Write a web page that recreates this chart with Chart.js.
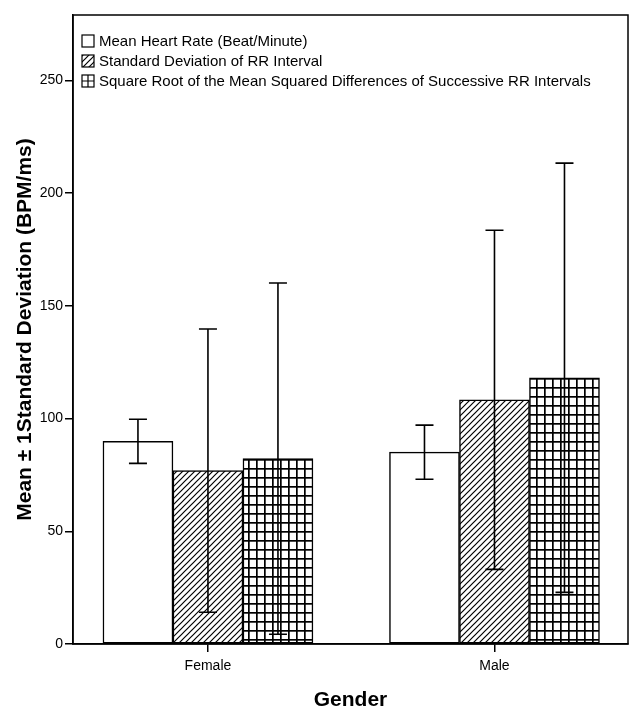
<!DOCTYPE html>
<html>
<head>
<meta charset="utf-8">
<script src="https://cdn.jsdelivr.net/npm/chart.js@4.4.1/dist/chart.umd.min.js"></script>
<style>
  html, body { margin: 0; padding: 0; background: #ffffff; }
  #wrap { width: 644px; height: 722px; }
</style>
</head>
<body>
<div id="wrap"><canvas id="c" width="644" height="722"></canvas></div>
<script>
// ---- data ----
const categories = ['Female', 'Male'];
const seriesLabels = [
  'Mean Heart Rate (Beat/Minute)',
  'Standard Deviation of RR Interval',
  'Square Root of the Mean Squared Differences of Successive RR Intervals'
];
const meanHR    = [89.9, 85.1];
const sdHR      = [9.8, 12.0];
const meanSDNN  = [76.9, 108.3];
const sdSDNN    = [62.8, 75.2];
const meanRMSSD = [82.2, 118.1];
const sdRMSSD   = [77.9, 95.2];
const yTicks = [0, 50, 100, 150, 200, 250];

const FONT = "'Liberation Sans', Arial, sans-serif";

// ---- patterns ----
function hatchPattern() {
  const s = 6;
  const cv = document.createElement('canvas');
  cv.width = s; cv.height = s;
  const g = cv.getContext('2d');
  g.fillStyle = '#fff'; g.fillRect(0, 0, s, s);
  g.strokeStyle = '#000'; g.lineWidth = 1.2;
  g.beginPath();
  g.moveTo(0, s); g.lineTo(s, 0);
  g.moveTo(-1, 1); g.lineTo(1, -1);
  g.moveTo(s - 1, s + 1); g.lineTo(s + 1, s - 1);
  g.stroke();
  return document.getElementById('c').getContext('2d').createPattern(cv, 'repeat');
}
function gridPattern() {
  const w = 8, h = 9;
  const cv = document.createElement('canvas');
  cv.width = w; cv.height = h;
  const g = cv.getContext('2d');
  g.fillStyle = '#fff'; g.fillRect(0, 0, w, h);
  g.fillStyle = '#000';
  g.fillRect(0, 0, 1.7, h);
  g.fillRect(0, 0, w, 1.7);
  return document.getElementById('c').getContext('2d').createPattern(cv, 'repeat');
}

const means = [meanHR, meanSDNN, meanRMSSD];
const sds = [sdHR, sdSDNN, sdRMSSD];
const fills = ['#ffffff', hatchPattern(), gridPattern()];

const datasets = means.map((m, k) => ({
  label: seriesLabels[k],
  data: m.map((v, i) => ({ x: i, y: v })),
  sd: sds[k],
  backgroundColor: fills[k],
  borderColor: '#000',
  borderWidth: 1.5,
  borderSkipped: false,
  barThickness: 70
}));

// ---- plugins: error bars, frame, legend ----
const errorBars = {
  id: 'errorBars',
  afterDatasetsDraw(chart) {
    const ctx = chart.ctx;
    const y = chart.scales.y;
    ctx.save();
    ctx.strokeStyle = '#000';
    ctx.lineWidth = 1.6;
    chart.data.datasets.forEach((ds, k) => {
      const meta = chart.getDatasetMeta(k);
      meta.data.forEach((bar, i) => {
        const m = ds.data[i].y, s = ds.sd[i];
        const yt = y.getPixelForValue(m + s);
        const yb = y.getPixelForValue(m - s);
        const x = bar.x, cap = 9;
        ctx.beginPath();
        ctx.moveTo(x, yt); ctx.lineTo(x, yb);
        ctx.moveTo(x - cap, yt); ctx.lineTo(x + cap, yt);
        ctx.moveTo(x - cap, yb); ctx.lineTo(x + cap, yb);
        ctx.stroke();
      });
    });
    ctx.restore();
  }
};

const frameAndLegend = {
  id: 'frameAndLegend',
  afterDraw(chart) {
    const ctx = chart.ctx;
    const a = chart.chartArea;
    ctx.save();
    ctx.strokeStyle = '#000';
    ctx.lineWidth = 1.5;
    ctx.strokeRect(a.left, a.top, a.right - a.left, a.bottom - a.top);
    // legend
    ctx.font = '15px ' + FONT;
    ctx.textBaseline = 'middle';
    chart.data.datasets.forEach((ds, k) => {
      const bx = a.left + 9, by = a.top + 20 + k * 20, bs = 12;
      ctx.fillStyle = k === 2 ? '#fff' : ds.backgroundColor;
      ctx.fillRect(bx, by, bs, bs);
      ctx.strokeStyle = '#000';
      ctx.lineWidth = 1.2;
      ctx.strokeRect(bx, by, bs, bs);
      if (k === 2) {
        ctx.beginPath();
        ctx.moveTo(bx + bs / 2, by); ctx.lineTo(bx + bs / 2, by + bs);
        ctx.moveTo(bx, by + bs / 2); ctx.lineTo(bx + bs, by + bs / 2);
        ctx.stroke();
      }
      ctx.fillStyle = '#000';
      ctx.fillText(ds.label, bx + 17, by + 6.5);
    });
    ctx.restore();
  }
};

new Chart(document.getElementById('c'), {
  type: 'bar',
  data: { datasets },
  options: {
    responsive: false,
    animation: false,
    layout: { padding: { top: 15, right: 16, left: 0, bottom: 0 } },
    plugins: { legend: { display: false }, tooltip: { enabled: false } },
    scales: {
      x: {
        type: 'linear',
        min: -0.471,
        max: 1.466,
        offset: false,
        afterBuildTicks: (s) => { s.ticks = categories.map((c, i) => ({ value: i })); },
        afterFit: (s) => { s.height = 78; },
        ticks: {
          callback: (v) => categories[v] ?? '',
          color: '#000',
          font: { family: FONT, size: 14 },
          padding: 6,
          maxRotation: 0,
          autoSkip: false
        },
        grid: { offset: false, drawOnChartArea: false, drawTicks: true, tickLength: 8, color: '#000', lineWidth: 1.5 },
        border: { display: true, color: '#000', width: 1.5 },
        title: {
          display: true,
          text: 'Gender',
          color: '#000',
          font: { family: FONT, size: 21, weight: 'bold' },
          padding: { top: 0, bottom: 9 }
        }
      },
      y: {
        min: 0,
        max: 279,
        afterBuildTicks: (s) => { s.ticks = yTicks.map(v => ({ value: v })); },
        afterFit: (s) => { s.width = 73; },
        ticks: {
          color: '#000',
          font: { family: FONT, size: 14 },
          padding: 2
        },
        grid: { drawOnChartArea: false, drawTicks: true, tickLength: 8, color: '#000', lineWidth: 1.5 },
        border: { display: true, color: '#000', width: 1.5 },
        title: {
          display: true,
          text: 'Mean ± 1Standard Deviation (BPM/ms)',
          color: '#000',
          font: { family: FONT, size: 21, weight: 'bold' },
          padding: { top: 13, bottom: 0 }
        }
      }
    }
  },
  plugins: [errorBars, frameAndLegend]
});
</script>
</body>
</html>
